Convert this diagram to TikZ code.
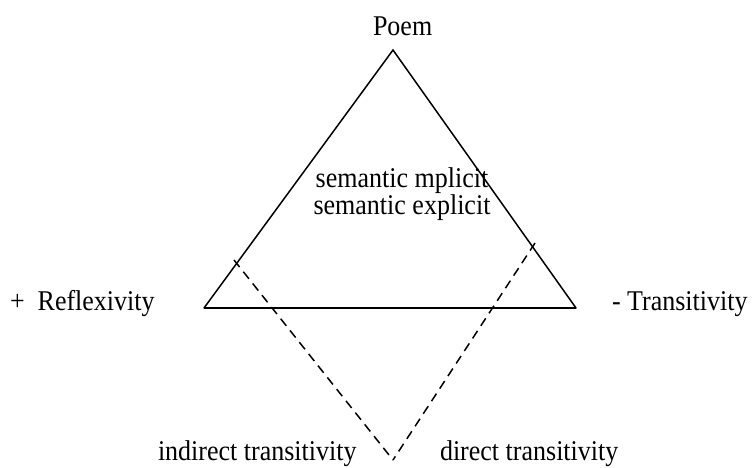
\documentclass[tikz,border=0pt]{standalone}
\usepackage{fontspec}
\usepackage{graphicx}
\setmainfont{Liberation Serif}
\newcommand\talltext[1]{\scalebox{1}[1.1]{#1}}
\begin{document}
\begin{tikzpicture}[x=1pt,y=-1pt,
  lbl/.style={inner sep=0pt,outer sep=0pt,anchor=base west,font=\fontsize{26}{27}\selectfont},
  side/.style={line width=1.5pt,line cap=round,line join=miter},
  basel/.style={line width=2.2pt},
  dashl/.style={line width=1.5pt,dash pattern=on 9pt off 6pt}]
\useasboundingbox (0,0) rectangle (752,467);
\coordinate (apex) at (393,50);
\coordinate (bl) at (204,308);
\coordinate (br) at (576,308);
\coordinate (ls) at (234,260);
\coordinate (rs) at (535,243);
\coordinate (bot) at (393,460);
\draw[side] (bl) -- (apex) -- (br);
\draw[basel] (bl) -- (br);
\draw[dashl] (ls) -- (bot);
\draw[dashl] (rs) -- (bot);
\node[lbl] (poem) at (373,35) {\talltext{Poem}};
\node[lbl,anchor=base,align=center] (sem) at (402,214) {\talltext{semantic mplicit}\\\talltext{semantic explicit}};
\node[lbl] (refl) at (10,310) {\talltext{+\ \ Reflexivity}};
\node[lbl] (trans) at (612,310) {\talltext{- Transitivity}};
\node[lbl] (ind) at (158,460) {\talltext{indirect transitivity}};
\node[lbl] (dir) at (440,460) {\talltext{direct transitivity}};
\end{tikzpicture}
\end{document}
